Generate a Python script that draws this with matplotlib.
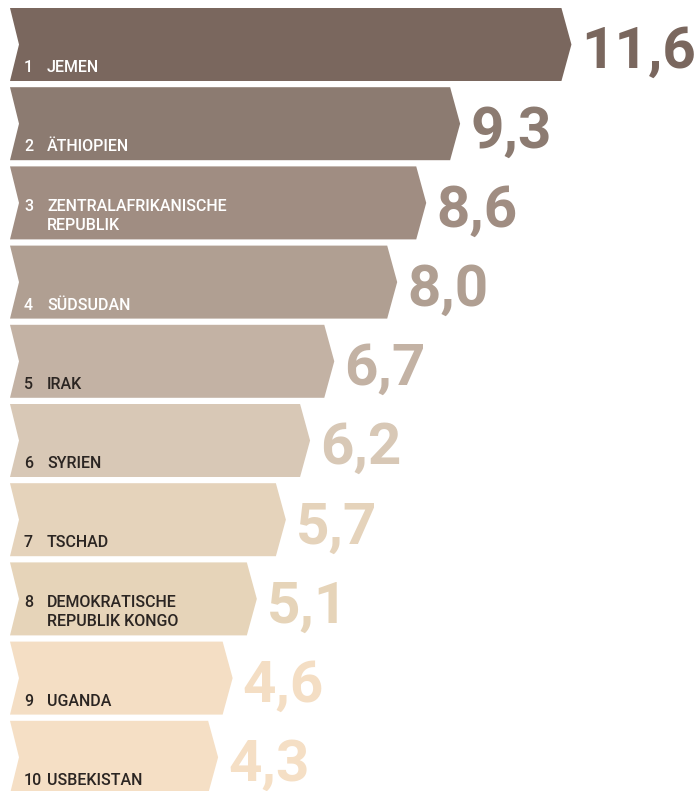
import matplotlib
matplotlib.use('Agg')
import matplotlib.pyplot as plt

# ── Data ─────────────────────────────────────────────
ranks = [1, 2, 3, 4, 5, 6, 7, 8, 9, 10]
countries = ['JEMEN', 'ÄTHIOPIEN', 'ZENTRALAFRIKANISCHE\nREPUBLIK', 'SÜDSUDAN',
             'IRAK', 'SYRIEN', 'TSCHAD', 'DEMOKRATISCHE\nREPUBLIK KONGO',
             'UGANDA', 'USBEKISTAN']
values = [11.6, 9.3, 8.6, 8.0, 6.7, 6.2, 5.7, 5.1, 4.6, 4.3]

colors = ['#7a675e', '#8c7b71', '#a08d82', '#b09f92', '#c3b2a4',
          '#d8c8b6', '#e5d3bb', '#e6d4b9', '#f4dec4', '#f5dfc5']
text_colors = ['white'] * 4 + ['#2b2522'] * 6

FONT = ['Roboto', 'DejaVu Sans']

W, H, DPI = 697, 791, 100
px_per_unit = 48.4
left_px = 10
pitch = 79.2
first_mid = 44.5
bar_h = 73 / pitch

fig = plt.figure(figsize=(W / DPI, H / DPI), dpi=DPI)
fig.patch.set_facecolor('white')
ax = fig.add_axes([0, 0, 1, 1])
ax.set_xlim(-left_px / px_per_unit, (W - left_px) / px_per_unit)
ax.set_ylim((H - first_mid) / pitch, -first_mid / pitch)
ax.axis('off')

notch = 9 / px_per_unit
tip = 10 / px_per_unit
line_gap = 19 / pitch

for i, (r, name, v, c, tc) in enumerate(zip(ranks, countries, values,
                                            colors, text_colors)):
    top, bot = i - bar_h / 2, i + bar_h / 2
    xs = [0, v - tip, v, v - tip, 0, notch]
    ys = [top, top, i, bot, bot, i]
    ax.fill(xs, ys, color=c, linewidth=0)

    # label inside the bar, anchored to the bottom
    lines = name.split('\n')
    ybase = bot - 9 / pitch - line_gap * (len(lines) - 1)
    ax.text(14 / px_per_unit, ybase, str(r), color=tc, fontsize=11.5,
            family=FONT, fontweight='medium', va='baseline', ha='left')
    for k, ln in enumerate(lines):
        ax.text(37 / px_per_unit, ybase + k * line_gap, ln, color=tc,
                fontsize=11.5, family=FONT, fontweight='medium',
                va='baseline', ha='left')

    # big value
    ax.text(v + 10 / px_per_unit, i + 0.3, f'{v:.1f}'.replace('.', ','),
            color=c, fontsize=42, fontweight='bold', family=FONT,
            va='baseline', ha='left')

fig.savefig('out.png', dpi=DPI, facecolor='white')
